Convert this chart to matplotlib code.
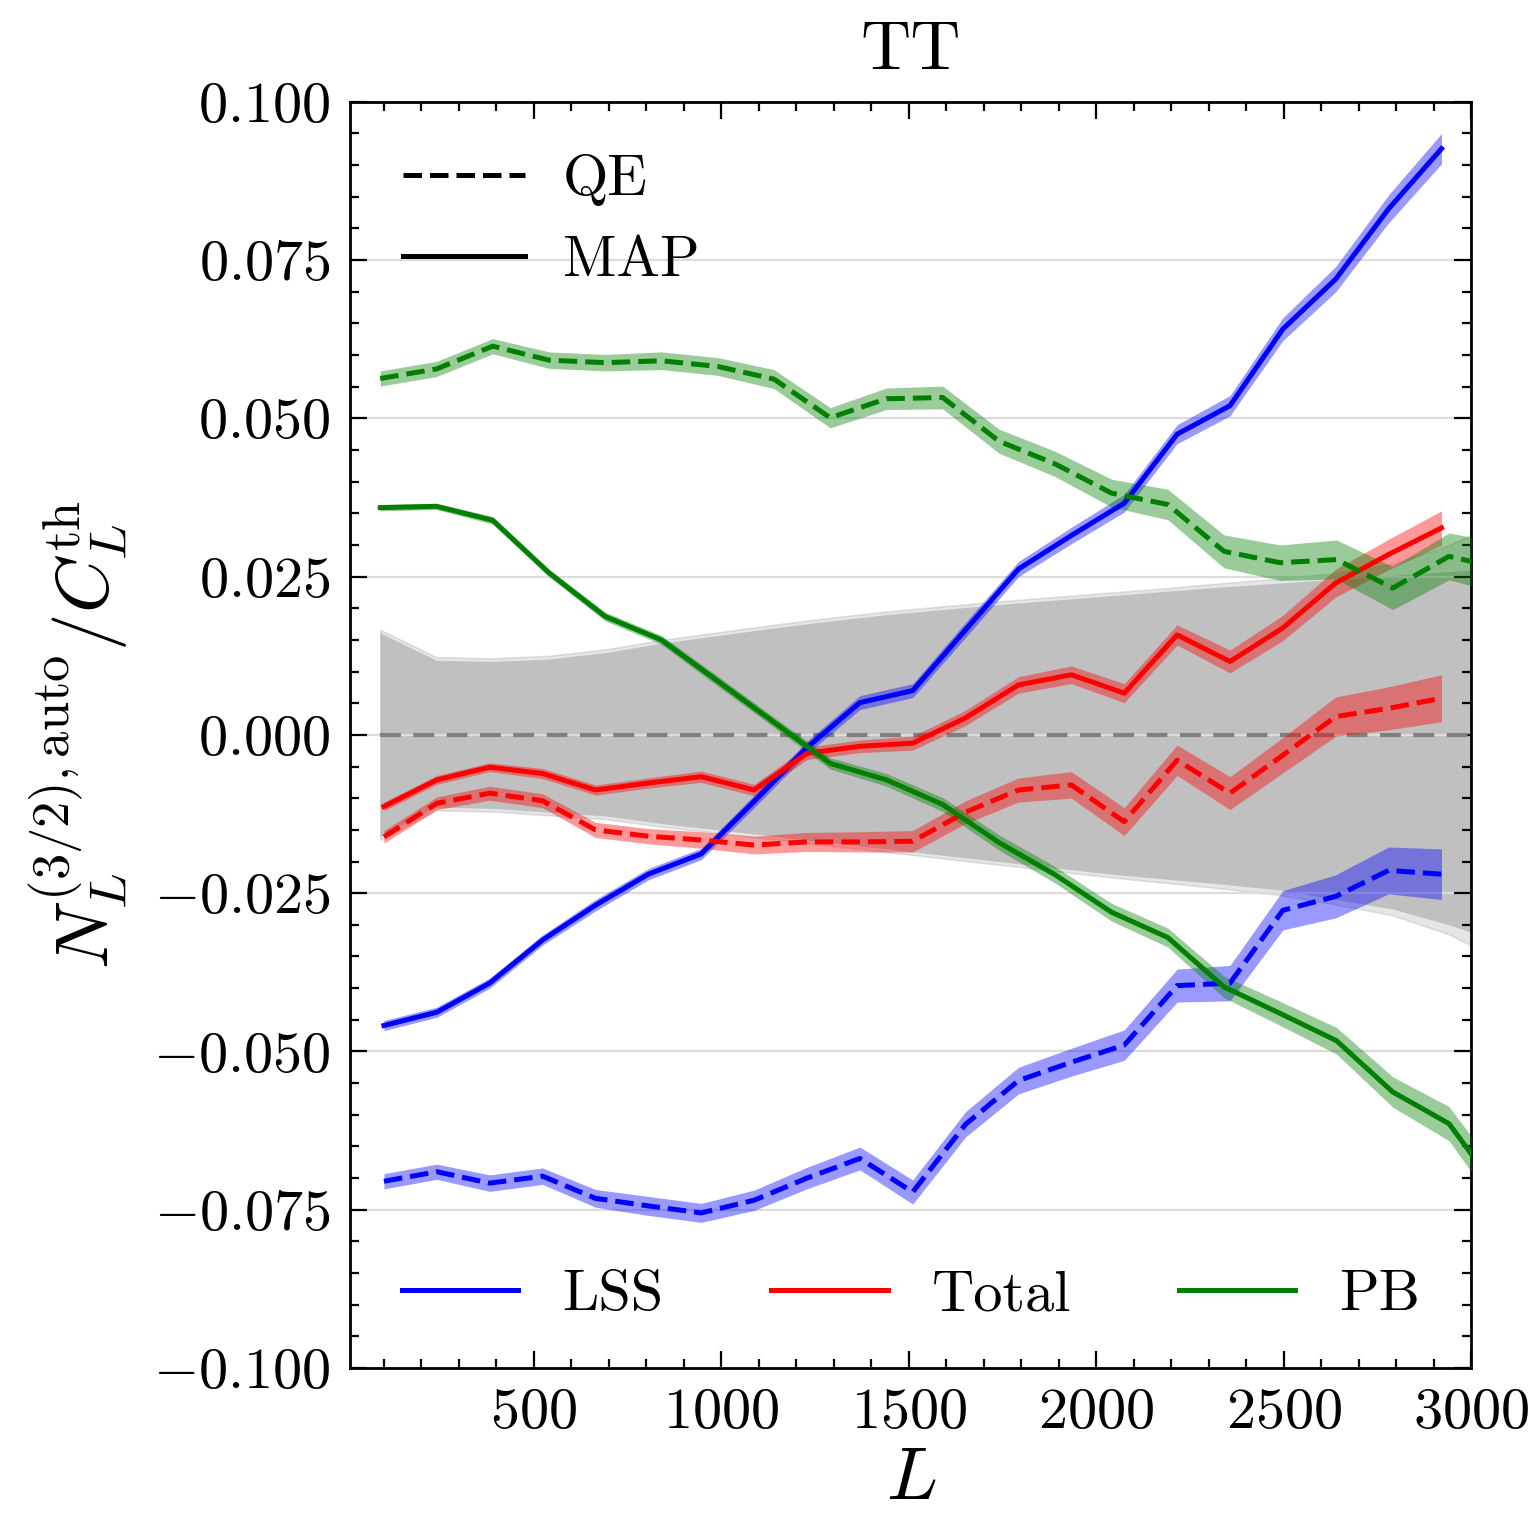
import matplotlib
matplotlib.use("Agg")
import matplotlib.pyplot as plt
from matplotlib.lines import Line2D
from matplotlib.ticker import MultipleLocator

plt.rcParams.update({
    "font.family": "serif",
    "font.serif": ["cmr10"],
    "mathtext.fontset": "cm",
    "axes.formatter.use_mathtext": True,
    "font.size": 21,
})

# L bins (LSS / Total share one binning, PB + null band another)
L_lss = [100, 241, 382, 523, 664, 805, 946, 1087, 1228, 1369, 1510,
         1651, 1792, 1933, 2074, 2215, 2356, 2497, 2638, 2779, 2920]
L_pb = [90, 240, 390, 540, 690, 840, 990, 1140, 1290, 1440, 1590,
        1740, 1890, 2040, 2190, 2340, 2490, 2640, 2790, 2940, 3090]

lss_map = [-0.0459, -0.0438, -0.0392, -0.0324, -0.0269, -0.0220, -0.0188, -0.0105, -0.0020, 0.0051, 0.0070,
           0.0166, 0.0262, 0.0315, 0.0366, 0.0475, 0.0520, 0.0641, 0.0720, 0.0831, 0.0926]
lss_map_err = [0.0008, 0.0008, 0.0008, 0.0008, 0.0009, 0.0009, 0.0009, 0.0010, 0.0010, 0.0011, 0.0011,
               0.0012, 0.0012, 0.0013, 0.0014, 0.0015, 0.0016, 0.0018, 0.0020, 0.0022, 0.0024]
lss_qe = [-0.0705, -0.0690, -0.0708, -0.0697, -0.0732, -0.0744, -0.0755, -0.0735, -0.0700, -0.0669, -0.0722,
          -0.0615, -0.0546, -0.0517, -0.0490, -0.0396, -0.0392, -0.0277, -0.0255, -0.0214, -0.0220]
lss_qe_err = [0.0012, 0.0012, 0.0013, 0.0013, 0.0014, 0.0015, 0.0015, 0.0016, 0.0017, 0.0018, 0.0019,
              0.0020, 0.0021, 0.0022, 0.0024, 0.0026, 0.0028, 0.0031, 0.0034, 0.0037, 0.0040]

total_map = [-0.0113, -0.0071, -0.0051, -0.0061, -0.0087, -0.0076, -0.0066, -0.0087, -0.0029, -0.0018, -0.0013,
             0.0027, 0.0079, 0.0095, 0.0066, 0.0158, 0.0116, 0.0169, 0.0240, 0.0285, 0.0327]
total_map_err = [0.0007, 0.0007, 0.0007, 0.0008, 0.0008, 0.0008, 0.0009, 0.0009, 0.0010, 0.0010, 0.0011,
                 0.0012, 0.0013, 0.0014, 0.0015, 0.0016, 0.0018, 0.0020, 0.0022, 0.0024, 0.0027]
total_qe = [-0.0161, -0.0108, -0.0092, -0.0104, -0.0150, -0.0160, -0.0166, -0.0174, -0.0169, -0.0169, -0.0168,
            -0.0122, -0.0087, -0.0079, -0.0137, -0.0040, -0.0092, -0.0032, 0.0029, 0.0042, 0.0058]
total_qe_err = [0.0010, 0.0010, 0.0011, 0.0011, 0.0012, 0.0012, 0.0013, 0.0014, 0.0015, 0.0016, 0.0017,
                0.0018, 0.0019, 0.0021, 0.0022, 0.0024, 0.0026, 0.0028, 0.0031, 0.0034, 0.0037]

pb_map = [0.0359, 0.0361, 0.0339, 0.0256, 0.0187, 0.0150, 0.0085, 0.0020, -0.0045, -0.0071, -0.0110,
          -0.0170, -0.0221, -0.0280, -0.0320, -0.0398, -0.0440, -0.0483, -0.0564, -0.0614, -0.0735]
pb_map_err = [0.0005, 0.0005, 0.0006, 0.0006, 0.0007, 0.0007, 0.0008, 0.0008, 0.0009, 0.0010, 0.0011,
              0.0012, 0.0013, 0.0014, 0.0015, 0.0017, 0.0019, 0.0021, 0.0024, 0.0027, 0.0030]
pb_qe = [0.0563, 0.0578, 0.0614, 0.0592, 0.0588, 0.0591, 0.0582, 0.0562, 0.0501, 0.0531, 0.0533,
         0.0464, 0.0428, 0.0382, 0.0364, 0.0290, 0.0272, 0.0277, 0.0232, 0.0282, 0.0262]
pb_qe_err = [0.0012, 0.0012, 0.0012, 0.0013, 0.0013, 0.0014, 0.0014, 0.0015, 0.0016, 0.0017, 0.0018,
             0.0019, 0.0020, 0.0022, 0.0024, 0.0026, 0.0028, 0.0031, 0.0034, 0.0037, 0.0040]

# null scatter band (inner + slightly wider outer)
band_hi = [0.0161, 0.0118, 0.0116, 0.0120, 0.0130, 0.0145, 0.0157, 0.0169, 0.0180, 0.0190, 0.0198,
           0.0206, 0.0213, 0.0220, 0.0227, 0.0234, 0.0240, 0.0246, 0.0252, 0.0258, 0.0264]
band_lo = [-0.0161, -0.0114, -0.0116, -0.0122, -0.0128, -0.0140, -0.0150, -0.0160, -0.0170, -0.0180, -0.0190,
           -0.0200, -0.0210, -0.0220, -0.0228, -0.0236, -0.0245, -0.0260, -0.0275, -0.0300, -0.0330]
band2_hi = [0.0166, 0.0123, 0.0121, 0.0125, 0.0135, 0.0150, 0.0162, 0.0174, 0.0185, 0.0195, 0.0203,
            0.0211, 0.0218, 0.0225, 0.0232, 0.0240, 0.0247, 0.0256, 0.0270, 0.0300, 0.0340]
band2_lo = [-0.0166, -0.0119, -0.0121, -0.0127, -0.0133, -0.0145, -0.0155, -0.0165, -0.0175, -0.0185, -0.0195,
            -0.0205, -0.0215, -0.0225, -0.0234, -0.0243, -0.0253, -0.0268, -0.0285, -0.0315, -0.0360]


def draw(ax, x, y, err, color, ls):
    lo = [a - b for a, b in zip(y, err)]
    hi = [a + b for a, b in zip(y, err)]
    ax.fill_between(x, lo, hi, color=color, alpha=0.4, lw=0, zorder=3)
    ax.plot(x, y, color=color, ls=ls, lw=1.8, zorder=4)


fig = plt.figure(figsize=(7.68, 7.60), dpi=200)
ax = fig.add_axes([0.228, 0.100, 0.730, 0.833])

ax.fill_between(L_pb, band2_lo, band2_hi, color="gray", alpha=0.2, lw=0.6, zorder=1)
ax.fill_between(L_pb, band_lo, band_hi, color="gray", alpha=0.36, lw=0, zorder=1)
ax.hlines(0, L_pb[0], L_pb[-1], color="gray", ls=(0, (5, 3)), lw=1.5, zorder=2)

draw(ax, L_lss, lss_map, lss_map_err, "blue", "-")
draw(ax, L_lss, lss_qe, lss_qe_err, "blue", "--")
draw(ax, L_lss, total_map, total_map_err, "red", "-")
draw(ax, L_lss, total_qe, total_qe_err, "red", "--")
draw(ax, L_pb, pb_map, pb_map_err, "green", "-")
draw(ax, L_pb, pb_qe, pb_qe_err, "green", "--")

ax.set_xlim(10, 3000)
ax.set_ylim(-0.1, 0.1)
ax.xaxis.set_major_locator(MultipleLocator(500))
ax.xaxis.set_minor_locator(MultipleLocator(100))
ax.yaxis.set_major_locator(MultipleLocator(0.025))
ax.yaxis.set_minor_locator(MultipleLocator(0.005))
ax.tick_params(which="both", direction="in", top=True, right=True, width=0.8)
ax.tick_params(which="major", length=6, pad=7)
ax.tick_params(which="minor", length=3.2)
ax.yaxis.grid(True, color="#dcdcdc", lw=0.8, zorder=0)
for s in ax.spines.values():
    s.set_linewidth(1.0)

ax.set_title("TT", fontsize=25, pad=12)
ax.set_xlabel(r"$L$", fontsize=27, labelpad=3)
ax.set_ylabel(r"$N_L^{(3/2),\mathrm{auto}}/C_L^{\mathrm{th}}$", fontsize=27, labelpad=8)

est = [Line2D([], [], color="k", ls="--", lw=1.8),
       Line2D([], [], color="k", ls="-", lw=1.8)]
leg1 = ax.legend(est, ["QE", "MAP"], loc="upper left", frameon=False,
                 handlelength=2.1, handletextpad=0.65, labelspacing=0.5,
                 borderaxespad=0.5, fontsize=21)
ax.add_artist(leg1)

comp = [Line2D([], [], color=c, lw=1.8) for c in ("blue", "red", "green")]
ax.legend(comp, ["LSS", "Total", "PB"], loc="lower center", ncol=3, frameon=False,
          handlelength=2.0, handletextpad=0.75, columnspacing=1.85,
          borderaxespad=0.4, fontsize=21)

fig.savefig("out.png", dpi=200)
